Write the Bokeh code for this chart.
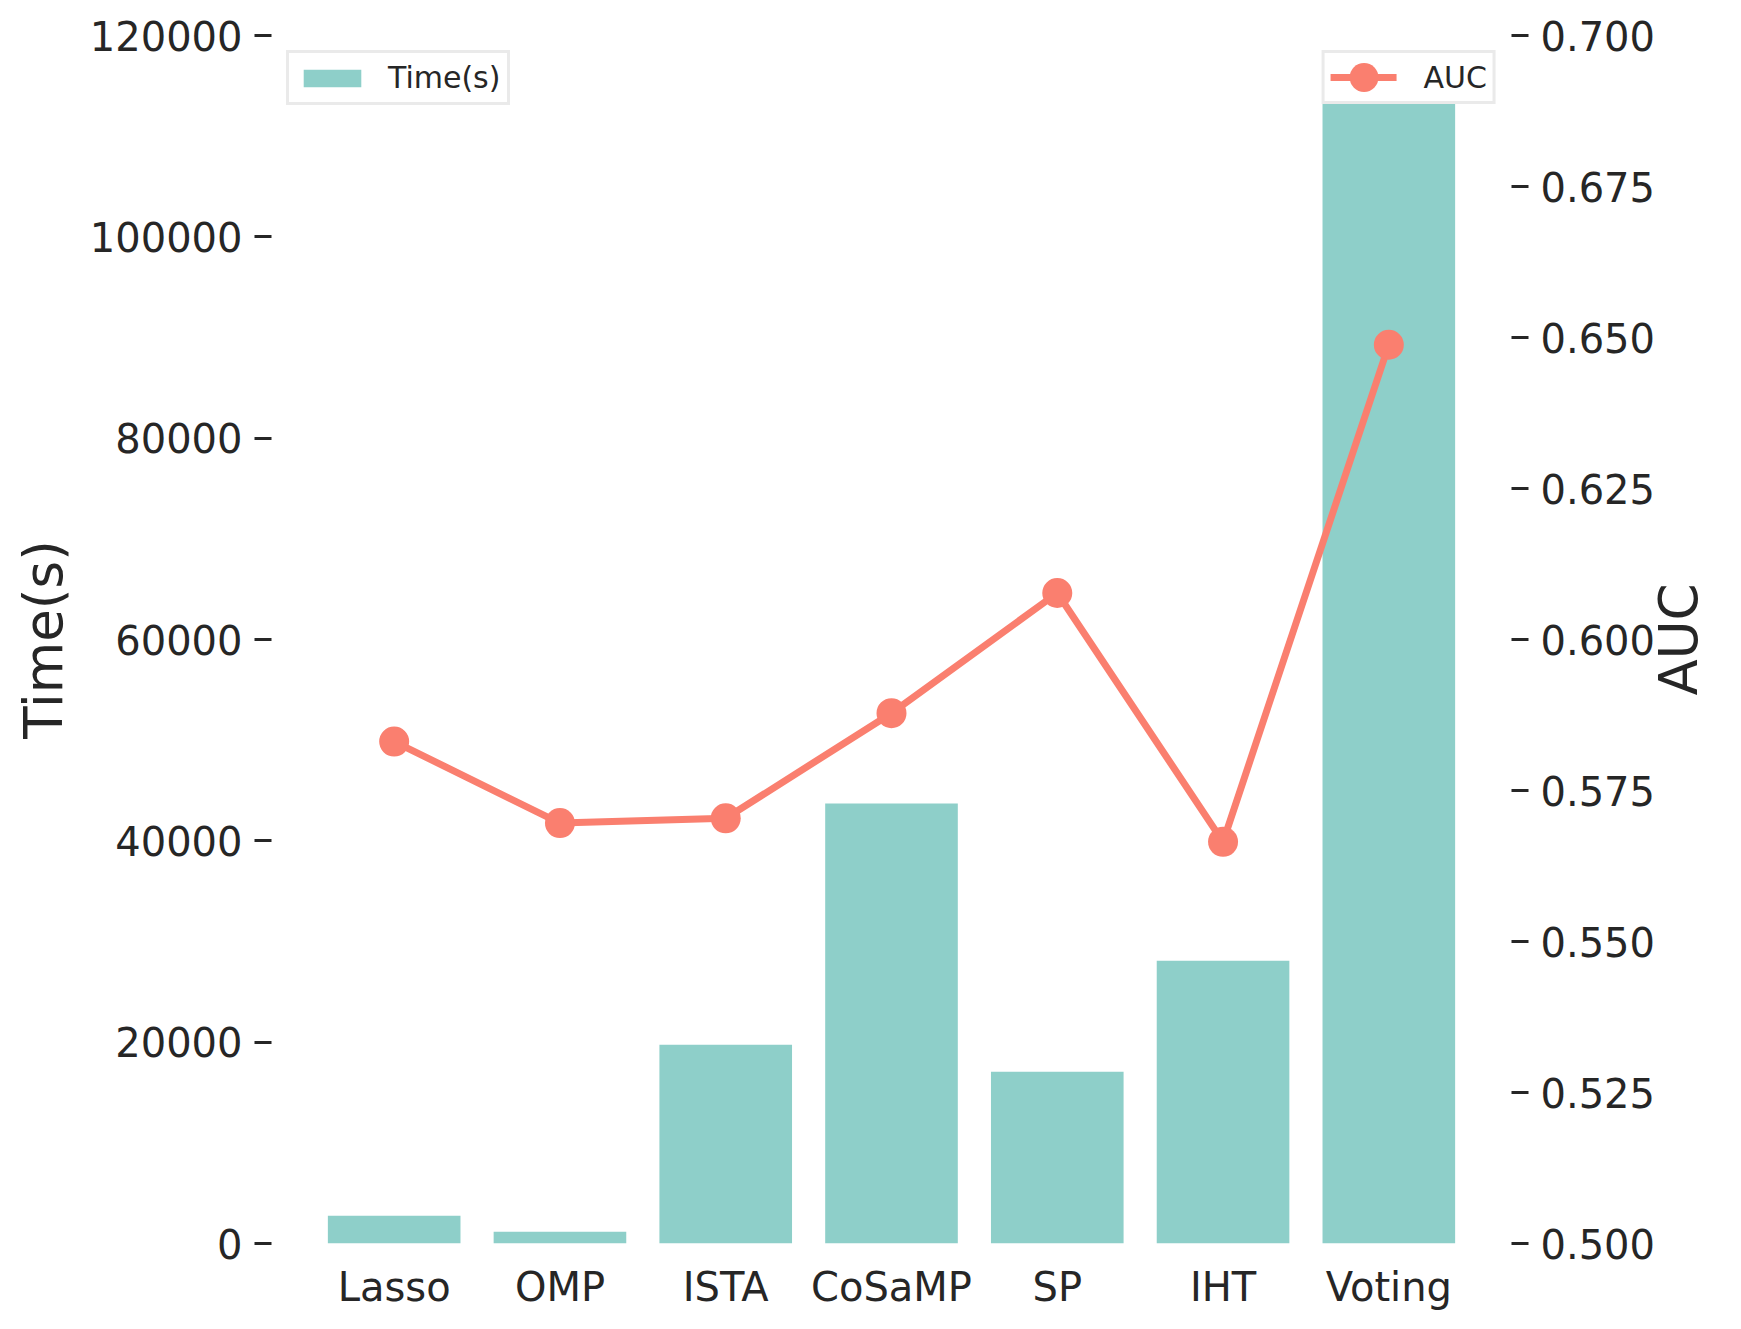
import math
from bokeh.plotting import figure
from bokeh.models import (Range1d, FactorRange, LinearAxis, Legend, LegendItem,
                          FixedTicker, NumeralTickFormatter, ColumnDataSource, Label)
from bokeh.embed import file_html
from bokeh.resources import INLINE

# ---- data ----
methods = ["Lasso", "OMP", "ISTA", "CoSaMP", "SP", "IHT", "Voting"]
time_s = [2750, 1160, 19750, 43700, 17050, 28100, 114300]
auc = [0.5831, 0.5696, 0.5704, 0.5878, 0.6077, 0.5665, 0.6488]
time_ticks = [0, 20000, 40000, 60000, 80000, 100000, 120000]
auc_ticks = [0.500, 0.525, 0.550, 0.575, 0.600, 0.625, 0.650, 0.675, 0.700]

BAR = "#8ECFC9"
LINE = "#FA7F6F"
TEXT = "#262626"
FONT = "DejaVu Sans"

src = ColumnDataSource(data=dict(method=methods, time=time_s, auc=auc))

p = figure(
    x_range=FactorRange(factors=methods, range_padding=0.24, range_padding_units="absolute"),
    y_range=Range1d(0, 120000),
    width=1741, height=1329,
    output_backend="svg", toolbar_location=None,
    min_border_left=271, min_border_right=230, min_border_top=35, min_border_bottom=86,
    background_fill_color="white", border_fill_color="white",
)
p.extra_y_ranges = {"auc": Range1d(0.5, 0.7)}
p.outline_line_color = None
p.xgrid.visible = False
p.ygrid.visible = False

bars = p.vbar(x="method", top="time", width=0.8, source=src,
              fill_color=BAR, line_color=None)
line = p.line(x="method", y="auc", source=src, y_range_name="auc",
              line_color=LINE, line_width=7, line_cap="round", line_join="round")
dots = p.ellipse(x="method", y="auc", source=src, y_range_name="auc",
                 width=30, height=30, width_units="screen", height_units="screen",
                 fill_color=LINE, line_color=None)

def style_axis(ax):
    ax.axis_line_color = None
    ax.minor_tick_line_color = None
    ax.major_label_text_font = FONT
    ax.major_label_text_font_size = "40px"
    ax.major_label_text_color = TEXT
    ax.axis_label_text_font = FONT
    ax.axis_label_text_font_size = "53px"
    ax.axis_label_text_font_style = "normal"
    ax.axis_label_text_color = TEXT

# left axis
ly = p.yaxis[0]
style_axis(ly)
ly.ticker = FixedTicker(ticks=time_ticks)
ly.formatter = NumeralTickFormatter(format="0")
ly.major_tick_in = 0
ly.major_tick_out = 17
ly.major_tick_line_width = 3
ly.major_tick_line_color = TEXT
ly.major_label_standoff = 12
ly.axis_label = "Time(s)"
ly.axis_label_standoff = 13

# bottom axis
bx = p.xaxis[0]
style_axis(bx)
bx.major_tick_line_color = None
bx.major_tick_in = 0
bx.major_tick_out = 0
bx.major_label_standoff = 20

# right axis
ry = LinearAxis(y_range_name="auc", ticker=FixedTicker(ticks=auc_ticks),
                formatter=NumeralTickFormatter(format="0.000"))
style_axis(ry)
ry.major_tick_in = 0
ry.major_tick_out = 17
ry.major_tick_line_width = 3
ry.major_tick_line_color = TEXT
ry.major_label_standoff = 12
p.add_layout(ry, "right")

# right axis title, reading bottom-to-top like the left one
auc_title = Label(x=20, x_units="screen", y=0.6, y_range_name="auc",
                  text="AUC", angle=math.pi / 2, angle_units="rad",
                  text_align="center", text_baseline="alphabetic",
                  text_font=FONT, text_font_size="53px", text_color=TEXT)
p.add_layout(auc_title, "right")

def style_legend(leg, gw, gh, standoff, pad):
    leg.label_text_font = FONT
    leg.label_text_font_size = "30px"
    leg.label_text_color = TEXT
    leg.glyph_width = gw
    leg.glyph_height = gh
    leg.label_standoff = standoff
    leg.padding = pad
    leg.spacing = 0
    leg.margin = 15
    leg.border_line_color = "#d6d6d6"
    leg.border_line_width = 3
    leg.background_fill_color = "white"
    leg.background_fill_alpha = 1.0

leg1 = Legend(items=[LegendItem(label="Time(s)", renderers=[bars])], location="top_left")
style_legend(leg1, 72, 22, 20, 7)
leg2 = Legend(items=[LegendItem(label="AUC", renderers=[line, dots])], location="top_right")
style_legend(leg2, 66, 36, 27, 6)
p.add_layout(leg1)
p.add_layout(leg2)

open("out.html", "w").write(file_html(p, INLINE))
